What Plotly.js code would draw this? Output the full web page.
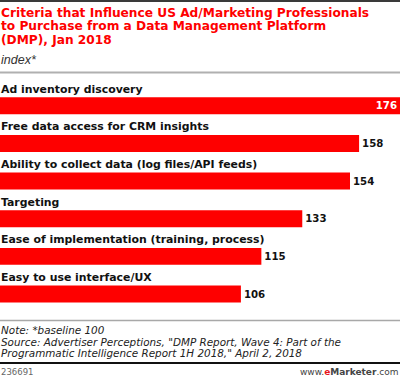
<!DOCTYPE html>
<html>
<head>
<meta charset="utf-8">
<script src="https://cdn.plot.ly/plotly-3.0.1.min.js"></script>
<style>
html,body{margin:0;padding:0;background:#fff;}
#chart{width:400px;height:377px;}
</style>
</head>
<body>
<div id="chart"></div>
<script>
// ---- data ----
const categories = [
  "Ad inventory discovery",
  "Free data access for CRM insights",
  "Ability to collect data (log files/API feeds)",
  "Targeting",
  "Ease of implementation (training, process)",
  "Easy to use interface/UX"
];
const values = [176, 158, 154, 133, 115, 106];
const titleLines = [
  "Criteria that Influence US Ad/Marketing Professionals",
  "to Purchase from a Data Management Platform",
  "(DMP), Jan 2018"
];
const subtitle = "index*";
const noteLines = [
  "Note: *baseline 100",
  "Source: Advertiser Perceptions, \"DMP Report, Wave 4: Part of the",
  "Programmatic Intelligence Report 1H 2018,\" April 2, 2018"
];
const chartId = "236691";

// ---- layout helpers ----
const W = 400, H = 377, MT = 87, MB = 58;
const PH = H - MT - MB;
function py(px){ return (H - MB - px) / PH; }

const SANS = "Liberation Sans, Arial, sans-serif";
const WIDE = "DejaVu Sans, Verdana, sans-serif";
const RED = "#fe0000";

const textPos = values.map((v,i) => i === 0 ? "inside" : "outside");

const trace = {
  type: "bar",
  orientation: "h",
  x: values,
  y: categories,
  marker: {color: RED, line: {width: 0}},
  text: values.map(String),
  textposition: textPos,
  insidetextanchor: "end",
  textangle: 0,
  constraintext: "none",
  insidetextfont: {family: WIDE, size: 10.2, color: "#ffffff", weight: "bold"},
  outsidetextfont: {family: WIDE, size: 10.2, color: "#111111", weight: "bold"},
  cliponaxis: false,
  hoverinfo: "none"
};

const annotations = [];
// category labels above bars
categories.forEach(c => {
  annotations.push({
    xref: "x", yref: "y", x: 0, y: c,
    xanchor: "left", yanchor: "bottom", yshift: 8, xshift: -1,
    text: "<b>" + c + "</b>", showarrow: false,
    font: {family: WIDE, size: 10.9, color: "#111"}
  });
});
// title
const titleCenters = [13.0, 26.3, 39.5];
titleLines.forEach((t,i) => {
  annotations.push({
    xref: "paper", yref: "paper", x: 0, y: py(titleCenters[i]),
    xanchor: "left", yanchor: "middle", xshift: -1,
    text: "<b>" + t + "</b>", showarrow: false,
    font: {family: WIDE, size: 12.2, color: RED}
  });
});
annotations.push({
  xref: "paper", yref: "paper", x: 0, y: py(60),
  xanchor: "left", yanchor: "middle", xshift: -1,
  text: "<i>" + subtitle + "</i>", showarrow: false,
  font: {family: SANS, size: 12.5, color: "#333"}
});
// footer notes
const noteCenters = [330, 341.5, 353];
noteLines.forEach((t,i) => {
  annotations.push({
    xref: "paper", yref: "paper", x: 0, y: py(noteCenters[i]),
    xanchor: "left", yanchor: "middle", xshift: -1,
    text: "<i>" + t + "</i>", showarrow: false,
    font: {family: WIDE, size: 10.4, color: "#222"}
  });
});
annotations.push({
  xref: "paper", yref: "paper", x: 0, y: py(371.5),
  xanchor: "left", yanchor: "middle", xshift: -1,
  text: chartId, showarrow: false,
  font: {family: WIDE, size: 8.5, color: "#666"}
});
annotations.push({
  xref: "paper", yref: "paper", x: 1, y: py(371.5),
  xanchor: "right", yanchor: "middle", xshift: 1,
  text: "www.<b><span style='color:#e8141b'>e</span>Marketer</b>.com", showarrow: false,
  font: {family: WIDE, size: 9, color: "#444"}
});

const shapes = [
  {type:"line", xref:"paper", yref:"paper", x0:0, x1:1, y0:py(1), y1:py(1), line:{color:"#3a3a3a", width:2}},
  {type:"line", xref:"paper", yref:"paper", x0:0, x1:1, y0:py(72.5), y1:py(72.5), line:{color:"#b0b0b0", width:2}},
  {type:"line", xref:"paper", yref:"paper", x0:0, x1:1, y0:py(320.5), y1:py(320.5), line:{color:"#a8a8a8", width:1.5}},
  {type:"line", xref:"paper", yref:"paper", x0:0, x1:1, y0:py(363), y1:py(363), line:{color:"#111", width:2}}
];

const layout = {
  width: W, height: H,
  margin: {l: 0, r: 0, t: MT, b: MB, pad: 0},
  paper_bgcolor: "#fff", plot_bgcolor: "#fff",
  showlegend: false,
  bargap: 0.55,
  uniformtext: {mode: false},
  xaxis: {range: [0, 176], visible: false, fixedrange: true},
  yaxis: {autorange: "reversed", visible: false, fixedrange: true, type: "category"},
  annotations: annotations,
  shapes: shapes,
  font: {family: SANS}
};

Plotly.newPlot("chart", [trace], layout, {displayModeBar: false, staticPlot: true});
</script>
</body>
</html>
